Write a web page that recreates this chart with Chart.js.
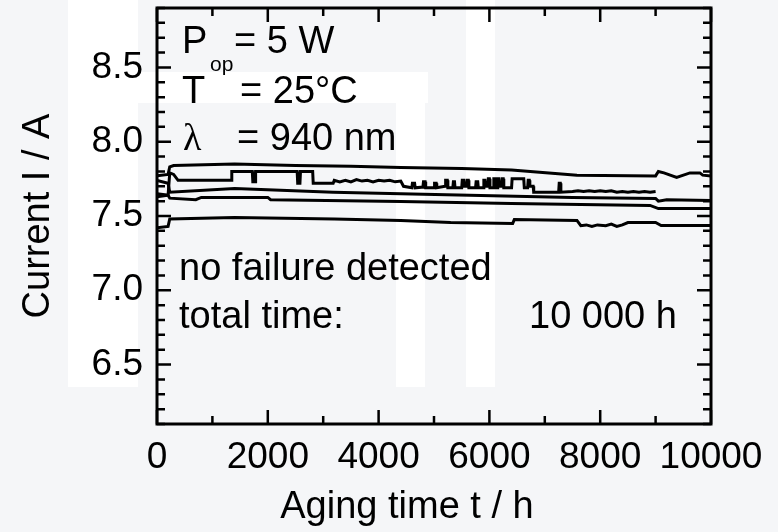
<!DOCTYPE html>
<html>
<head>
<meta charset="utf-8">
<script src="https://cdn.jsdelivr.net/npm/chart.js@4.4.1/dist/chart.umd.min.js"></script>
<style>
  html, body { margin: 0; padding: 0; background: #f5f6f8; }
  #wrap { width: 778px; height: 532px; }
</style>
</head>
<body>
<div id="wrap"><canvas id="agingChart" width="778" height="532"></canvas></div>
<script>
// ---- data (t in h, I in A) ----
const xTickLabels = [0, 2000, 4000, 6000, 8000, 10000];
const yTickLabels = [6.5, 7.0, 7.5, 8.0, 8.5];

const hoursA = [0, 200, 230, 300, 1400, 2500, 3500, 4400, 5500, 6400, 7580, 9000, 9050, 9150, 9380, 9620, 9800, 9850, 10000];
const currentA = [7.77, 7.78, 7.83, 7.84, 7.85, 7.84, 7.835, 7.827, 7.82, 7.81, 7.775, 7.77, 7.80, 7.79, 7.76, 7.79, 7.79, 7.775, 7.77];

const hoursB = [
  0, 200, 230, 300, 380, 1340, 1350, 1720, 1730, 1770,
  1780, 2530, 2540, 2580, 2590, 2810, 2820, 3180, 3200, 3300,
  3400, 3500, 3600, 3700, 3800, 3900, 4000, 4100, 4200, 4300,
  4400, 4450, 4600, 4610, 4650, 4660, 4800, 4810, 4840, 4850,
  5000, 5010, 5040, 5050, 5200, 5210, 5240, 5250, 5340, 5350,
  5370, 5380, 5500, 5510, 5540, 5550, 5590, 5600, 5620, 5630,
  5750, 5760, 5790, 5800, 5890, 5900, 5920, 5930, 5970, 5980,
  6000, 6010, 6070, 6080, 6100, 6110, 6140, 6150, 6170, 6180,
  6220, 6230, 6250, 6260, 6400, 6410, 6620, 6630, 6690, 6700,
  6720, 6730, 6790, 6800, 7250, 7260, 7280, 7290, 7500, 7600,
  7700, 7800, 7900, 8000, 8100, 8200, 8300, 8400, 8500, 8600,
  8700, 8800, 8900, 9000
];
const currentB = [
  7.63, 7.64, 7.79, 7.78, 7.74, 7.74, 7.80, 7.80, 7.73, 7.73,
  7.80, 7.80, 7.72, 7.72, 7.80, 7.80, 7.72, 7.72, 7.74, 7.73,
  7.74, 7.73, 7.745, 7.735, 7.74, 7.73, 7.74, 7.735, 7.74, 7.73,
  7.735, 7.70, 7.69, 7.72, 7.72, 7.69, 7.695, 7.73, 7.73, 7.69,
  7.69, 7.72, 7.72, 7.69, 7.70, 7.74, 7.74, 7.69, 7.69, 7.73,
  7.73, 7.69, 7.69, 7.74, 7.74, 7.70, 7.70, 7.74, 7.74, 7.69,
  7.69, 7.73, 7.73, 7.69, 7.69, 7.74, 7.74, 7.70, 7.70, 7.75,
  7.75, 7.69, 7.69, 7.75, 7.75, 7.69, 7.69, 7.75, 7.75, 7.70,
  7.70, 7.75, 7.75, 7.69, 7.69, 7.75, 7.75, 7.69, 7.69, 7.74,
  7.74, 7.70, 7.70, 7.66, 7.66, 7.72, 7.72, 7.66, 7.665, 7.67,
  7.665, 7.67, 7.665, 7.67, 7.665, 7.67, 7.66, 7.665, 7.66, 7.665,
  7.66, 7.665, 7.66, 7.665
];

const hoursC = [0, 200, 230, 1400, 3180, 4400, 7500, 9000, 9050, 9200, 10000];
const currentC = [7.74, 7.72, 7.66, 7.685, 7.66, 7.65, 7.625, 7.618, 7.60, 7.61, 7.604];

const hoursD = [0, 200, 230, 700, 800, 2000, 2050, 4400, 6400, 8900, 9050, 10000];
const currentD = [7.65, 7.64, 7.62, 7.61, 7.625, 7.625, 7.61, 7.598, 7.584, 7.571, 7.55, 7.55];

const hoursE = [0, 200, 230, 1400, 3200, 4400, 5300, 6420, 6450, 7580, 7650, 7750, 7850, 7950, 8100, 8200, 8300, 8400, 8500, 9000, 9100, 10000];
const currentE = [7.42, 7.43, 7.48, 7.49, 7.48, 7.47, 7.456, 7.45, 7.476, 7.47, 7.435, 7.44, 7.43, 7.44, 7.435, 7.445, 7.43, 7.44, 7.456, 7.456, 7.436, 7.436];

const xMinorStep = 1000;
const yMinorStep = 0.1;

const FONT = "'Liberation Sans', Arial, sans-serif";

const toPoints = (hours, current) => hours.map((t, i) => ({ x: t, y: current[i] }));
const series = [
  [hoursA, currentA], [hoursB, currentB], [hoursC, currentC], [hoursD, currentD], [hoursE, currentE]
];

// -------- background watermark ----------
const backdrop = {
  id: 'backdrop',
  beforeDraw(chart) {
    const { ctx, width, height } = chart;
    ctx.save();
    ctx.fillStyle = '#f5f6f8';
    ctx.fillRect(0, 0, width, height);
    ctx.fillStyle = '#ffffff';
    ctx.fillRect(68, 0, 70, 387);
    ctx.fillRect(138, 72, 290, 31);
    ctx.fillRect(396, 101, 29, 286);
    ctx.fillRect(466, 0, 29, 387);
    ctx.restore();
  }
};

// -------- frame + inward ticks ----------
const frameTicks = {
  id: 'frameTicks',
  afterDatasetsDraw(chart) {
    const { ctx, chartArea: a, scales: { x, y } } = chart;
    ctx.save();
    ctx.strokeStyle = '#000';
    ctx.lineWidth = 2.5;
    ctx.beginPath();
    for (let t = x.min; t <= x.max; t += xMinorStep) {
      const px = x.getPixelForValue(t);
      const len = xTickLabels.includes(t) ? 14 : 8;
      ctx.moveTo(px, a.bottom); ctx.lineTo(px, a.bottom - len);
      ctx.moveTo(px, a.top); ctx.lineTo(px, a.top + len);
    }
    const n = Math.round((y.max - y.min) / yMinorStep);
    for (let i = 0; i <= n; i++) {
      const v = +(y.min + i * yMinorStep).toFixed(2);
      const py = y.getPixelForValue(v);
      const len = yTickLabels.some(m => Math.abs(m - v) < 1e-6) ? 14 : 8;
      ctx.moveTo(a.left, py); ctx.lineTo(a.left + len, py);
      ctx.moveTo(a.right, py); ctx.lineTo(a.right - len, py);
    }
    ctx.stroke();
    ctx.lineWidth = 3;
    ctx.strokeRect(a.left, a.top, a.right - a.left, a.bottom - a.top);
    ctx.restore();
  }
};

// -------- text inside the plot + x title ----------
const notes = {
  id: 'notes',
  afterDraw(chart) {
    const { ctx } = chart;
    ctx.save();
    ctx.fillStyle = '#000';
    ctx.textBaseline = 'alphabetic';
    ctx.textAlign = 'left';
    ctx.font = `38px ${FONT}`;
    ctx.fillText('P', 182, 53);
    ctx.fillText('= 5 W', 234, 53);
    ctx.fillText('T', 182, 103);
    ctx.fillText('= 25°C', 240, 103);
    ctx.fillText('= 940 nm', 237, 150);
    ctx.fillText('no failure detected', 179, 280);
    ctx.fillText('total time:', 179, 328);
    ctx.fillText('10 000 h', 529, 328);
    ctx.textAlign = 'center';
    ctx.fillText('Aging time t / h', 407, 518);
    ctx.textAlign = 'left';
    ctx.font = `21px ${FONT}`;
    ctx.fillText('op', 210, 71);
    ctx.font = "38px 'Liberation Serif', 'DejaVu Serif', serif";
    ctx.fillText('λ', 183, 150);
    ctx.restore();
  }
};

const ctx = document.getElementById('agingChart').getContext('2d');
new Chart(ctx, {
  type: 'line',
  data: {
    datasets: series.map(([h, c]) => ({
      data: toPoints(h, c),
      borderColor: '#000',
      borderWidth: 3,
      pointRadius: 0,
      tension: 0,
      fill: false
    }))
  },
  options: {
    responsive: false,
    animation: false,
    devicePixelRatio: 1,
    layout: { padding: { top: 8, right: 67, left: 0, bottom: 0 } },
    plugins: { legend: { display: false }, tooltip: { enabled: false } },
    scales: {
      x: {
        type: 'linear',
        min: 0,
        max: 10000,
        afterFit: s => { s.height = 108; s.paddingLeft = 0; s.paddingRight = 0; },
        afterBuildTicks: s => { s.ticks = xTickLabels.map(v => ({ value: v })); },
        grid: { display: false, drawTicks: false },
        border: { display: false },
        ticks: { color: '#000', font: { family: FONT, size: 37 }, padding: 12, maxRotation: 0, autoSkip: false, callback: v => String(v) },
        title: { display: false }
      },
      y: {
        min: 6.1,
        max: 8.9,
        afterFit: s => { s.width = 157; s.paddingTop = 0; s.paddingBottom = 0; },
        afterBuildTicks: s => { s.ticks = yTickLabels.map(v => ({ value: v })); },
        grid: { display: false, drawTicks: false },
        border: { display: false },
        ticks: { color: '#000', font: { family: FONT, size: 37 }, padding: 14, callback: v => v.toFixed(1) },
        title: { display: true, text: 'Current I / A', color: '#000', font: { family: FONT, size: 38 }, padding: { top: 16, bottom: 0 } }
      }
    }
  },
  plugins: [backdrop, frameTicks, notes]
});
</script>
</body>
</html>
